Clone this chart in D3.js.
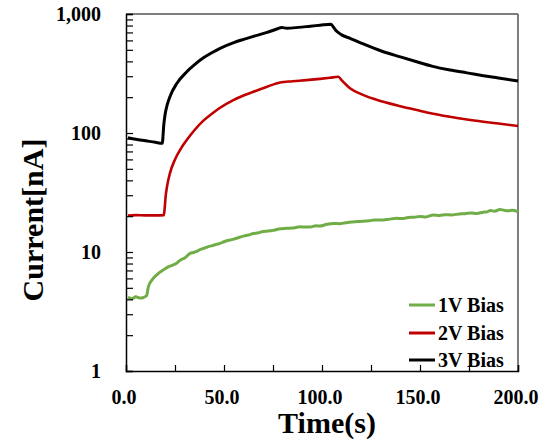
<!DOCTYPE html>
<html><head><meta charset="utf-8">
<script src="https://cdn.jsdelivr.net/npm/d3@7"></script>
<style>body{margin:0;background:#fff}svg{display:block}</style>
</head><body>
<svg id="c" width="549" height="445"></svg>
<script>
const t1 = [1,3,5,7,9,10.5,11.4,13.9,16,19,21.5,24.1,26,28,30,32.7,34.5,36,38,39.5,42,44,46,48,50,52,54,56,58,60,62.5,65,67.5,70,72.5,75,78,82,85,88.8,91,94,97,99,102,105.8,109,112,115,118,121,124,127,131.3,134,138,141,144,147,150,153,156.8,160,163,166,170,173,176,179,182.3,184,186,188,190.8,193,195,197,200];
const v1 = [4.15,4.05,4.2,4.1,4.15,4.3,5.1,6.0,6.5,7.06,7.5,7.78,8.1,8.6,8.9,9.75,9.9,10.1,10.5,10.7,11.1,11.3,11.6,11.8,12.2,12.5,12.7,13.0,13.3,13.6,13.9,14.3,14.5,14.9,15.0,15.2,15.6,15.8,15.9,16.3,16.2,16.2,16.6,16.5,17.0,17.4,17.3,17.6,17.9,18.0,18.1,18.3,18.6,18.6,18.8,19.2,19.1,19.5,19.6,19.9,19.7,20.5,20.3,20.6,20.5,20.9,21.0,21.3,21.1,21.6,21.7,22.3,22.0,22.8,22.4,22.2,22.4,21.8];
const t2 = [1,5,10,15,19.3,19.7,20.2,21,22.4,25,28,31,35,39.5,44,48,55,65,72,78.6,85,92,99,104,108.3,110,114.3,120,131.3,140,148.3,156,165.3,174,182.3,190,200];
const v2 = [20.2,20.4,20.3,20.3,20.4,23,29,36,45.8,60,74,87.3,106,127,146,163,190,222,245,266,272,278,285,291,297,278,238,212,183,168,156,146,137,130,124.5,120,114.5];
const t3 = [1,5,10,15,18.5,19.3,20,21,22.4,26,31,35,39.5,44,48,55,60,65,72,77,79.5,82,88,94,99,104.6,106,107.5,110,114.3,120,131.3,140,148.3,156,165.3,174,182.3,190,200];
const v3 = [91.3,88.5,86,83.5,82,118,145,172,202,262,327,375,428,475,515,575,612,648,700,748,770,760,772,790,805,822,770,715,668,625,570,482,436,397,365,338,320,303,290,273];
const series = [
  {name:"1V Bias", t:t1, v:v1, color:"#70ad47", w:3},
  {name:"2V Bias", t:t2, v:v2, color:"#c00000", w:2.6},
  {name:"3V Bias", t:t3, v:v3, color:"#000000", w:3}
];
const xTickVals = [0,50,100,150,200];
const yTickVals = [1,10,100,1000];

const svg = d3.select("#c");
const L=126, R=518, T=14, B=371;
const x = d3.scaleLinear().domain([0,200]).range([L,R]);
const y = d3.scaleLog().domain([1,1000]).range([B,T]);
const font = "'Liberation Serif','Times New Roman',serif";

svg.append("line").attr("x1",L).attr("x2",R).attr("y1",T).attr("y2",T).attr("stroke","#555").attr("stroke-width",1.5);
svg.append("line").attr("x1",R).attr("x2",R).attr("y1",T).attr("y2",B).attr("stroke","#555").attr("stroke-width",1.5);

const line = d3.line().x(d=>x(d[0])).y(d=>y(d[1])).curve(d3.curveMonotoneX);
series.forEach(s=>{
  svg.append("path").datum(s.t.map((t,i)=>[t,s.v[i]]))
    .attr("d",line).attr("fill","none").attr("stroke",s.color)
    .attr("stroke-width",s.w).attr("stroke-linejoin","round");
});

const xAxis = d3.axisBottom(x).tickValues(d3.range(0,201,25)).tickSize(-6).tickFormat("");
const gx = svg.append("g").attr("transform",`translate(0,${B})`).call(xAxis);
gx.select(".domain").attr("stroke","#000").attr("stroke-width",1.5);
gx.selectAll(".tick line").attr("stroke","#000").attr("stroke-width",1.2);
svg.selectAll(".xl").data(xTickVals).enter().append("text")
  .attr("x",d=>x(d)-2).attr("y",404).attr("text-anchor","middle")
  .attr("font-family",font).attr("font-weight","bold").attr("font-size",20)
  .text(d=>d3.format(".1f")(d));

const minor = [];
for (let e=0;e<3;e++) for (let k=1;k<10;k++) minor.push(k*Math.pow(10,e));
minor.push(1000);
const yAxis = d3.axisLeft(y).tickValues(minor).tickSize(-7).tickFormat("");
const gy = svg.append("g").attr("transform",`translate(${L},0)`).call(yAxis);
gy.select(".domain").attr("stroke","#000").attr("stroke-width",1.5);
gy.selectAll(".tick line").attr("stroke","#000").attr("stroke-width",1.2);
svg.selectAll(".yl").data(yTickVals).enter().append("text")
  .attr("x",101).attr("y",d=>y(d)+7).attr("text-anchor","end")
  .attr("font-family",font).attr("font-weight","bold").attr("font-size",20)
  .text(d=>d3.format(",")(d));

svg.append("text").attr("x",327).attr("y",433).attr("text-anchor","middle")
  .attr("font-family",font).attr("font-weight","bold").attr("font-size",30).text("Time(s)");
svg.append("text").attr("transform","translate(43,220) rotate(-90)").attr("text-anchor","middle")
  .attr("font-family",font).attr("font-weight","bold").attr("font-size",30).text("Current[nA]");

const ly = [305,333,360];
series.forEach((s,i)=>{
  svg.append("line").attr("x1",409).attr("x2",435).attr("y1",ly[i]).attr("y2",ly[i])
    .attr("stroke",s.color).attr("stroke-width",3);
  svg.append("text").attr("x",438).attr("y",ly[i]+6.5)
    .attr("font-family",font).attr("font-weight","bold").attr("font-size",20).text(s.name);
});
</script>
</body></html>
